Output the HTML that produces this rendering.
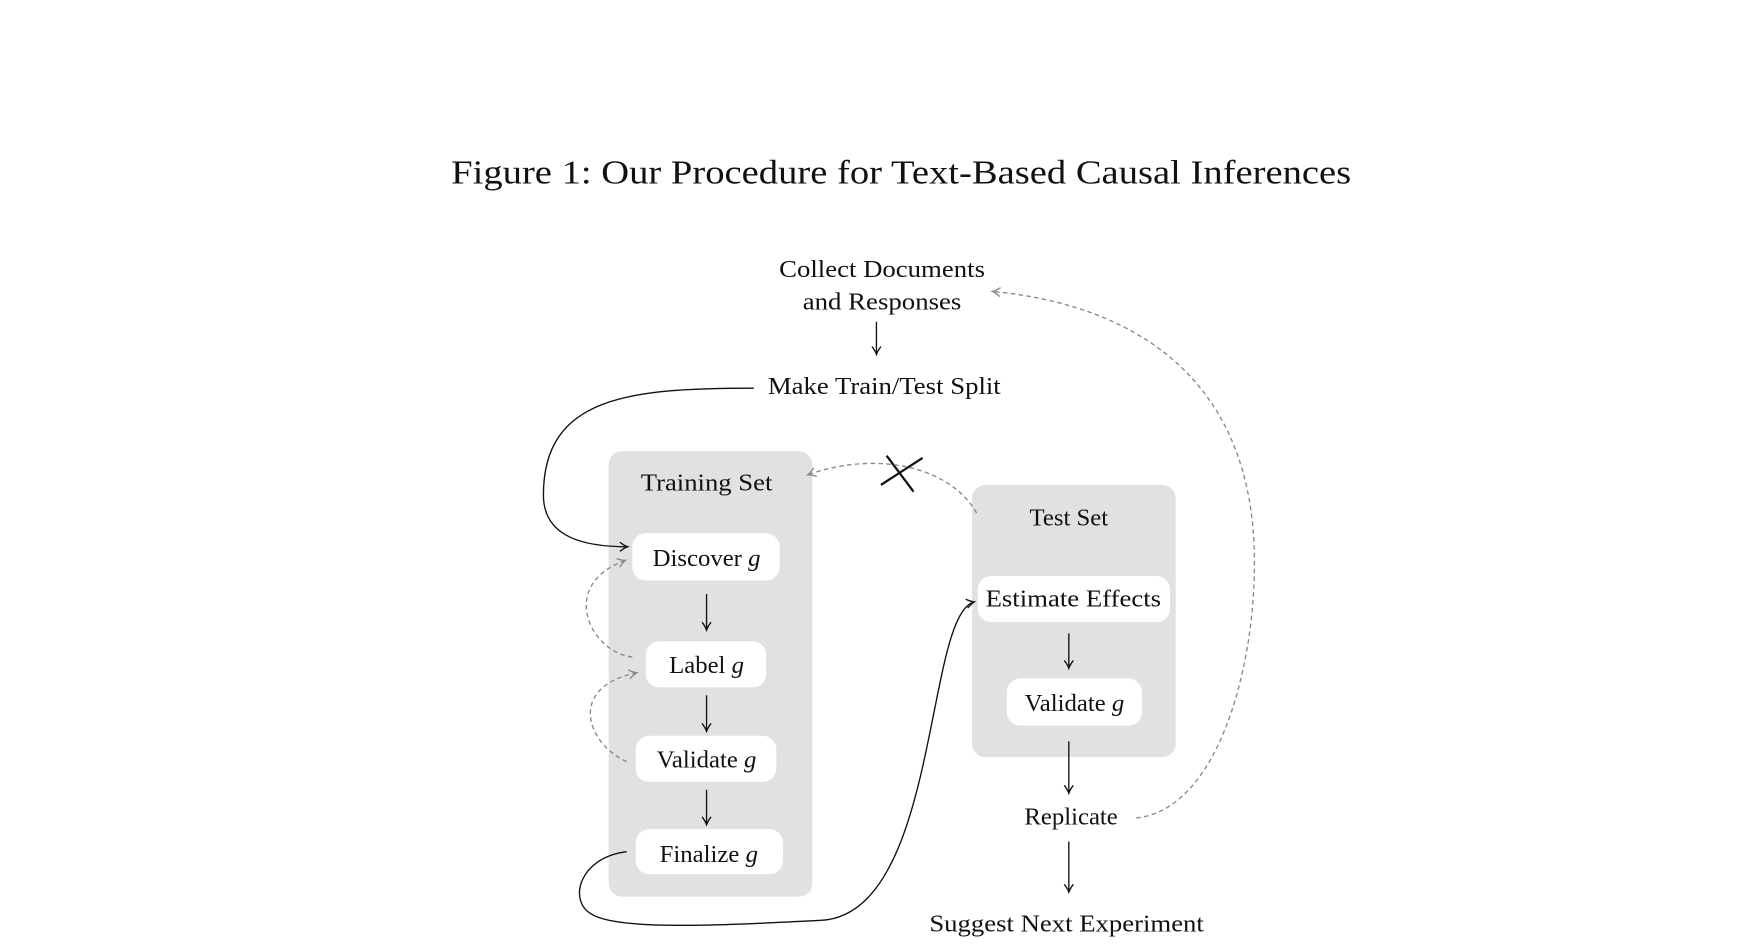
<!DOCTYPE html>
<html><head><meta charset="utf-8"><style>
html,body{margin:0;padding:0;background:#fff;}
svg{display:block;}
text{font-family:"Liberation Serif",serif;fill:#111;}
</style></head><body>
<svg width="1763" height="950" viewBox="0 0 1567 844.4" xmlns="http://www.w3.org/2000/svg">
<defs>
<marker id="a" markerWidth="10" markerHeight="10" refX="8" refY="5" orient="auto" markerUnits="userSpaceOnUse">
<path d="M1,1 Q5,4 8,5 Q5,6 1,9" fill="none" stroke="#111" stroke-width="1.2"/></marker>
<marker id="g" markerWidth="10" markerHeight="10" refX="8" refY="5" orient="auto" markerUnits="userSpaceOnUse">
<path d="M1,1 Q5,4 8,5 Q5,6 1,9" fill="none" stroke="#888" stroke-width="1.2"/></marker>
</defs>
<text x="801" y="163" font-size="30" text-anchor="middle" textLength="800" lengthAdjust="spacingAndGlyphs">Figure 1: Our Procedure for Text-Based Causal Inferences</text>

<g font-size="22" text-anchor="middle">
<text x="784" y="246" textLength="183" lengthAdjust="spacingAndGlyphs">Collect Documents</text>
<text x="784" y="275" textLength="141" lengthAdjust="spacingAndGlyphs">and Responses</text>
<text x="786" y="350" textLength="207" lengthAdjust="spacingAndGlyphs">Make Train/Test Split</text>
</g>
<line x1="779" y1="286" x2="779" y2="315" stroke="#111" stroke-width="1.2" marker-end="url(#a)"/>

<rect x="541" y="401" width="181" height="396" rx="12" fill="#e1e1e1"/>
<rect x="864" y="431" width="181" height="242" rx="12" fill="#e1e1e1"/>

<g fill="#fff">
<rect x="562" y="474" width="131" height="42" rx="12"/>
<rect x="574" y="570" width="107" height="41" rx="12"/>
<rect x="565" y="654" width="125" height="41" rx="12"/>
<rect x="565" y="737" width="131" height="40" rx="12"/>
<rect x="869" y="512" width="171" height="41" rx="12"/>
<rect x="895" y="603" width="120" height="42" rx="12"/>
</g>

<g font-size="22" text-anchor="middle">
<text x="628" y="436" textLength="117" lengthAdjust="spacingAndGlyphs">Training Set</text>
<text x="628" y="503">Discover <tspan font-style="italic">g</tspan></text>
<text x="628" y="598">Label <tspan font-style="italic">g</tspan></text>
<text x="628" y="682">Validate <tspan font-style="italic">g</tspan></text>
<text x="630" y="766">Finalize <tspan font-style="italic">g</tspan></text>
<text x="950" y="467">Test Set</text>
<text x="954" y="539" textLength="156" lengthAdjust="spacingAndGlyphs">Estimate Effects</text>
<text x="955" y="632">Validate <tspan font-style="italic">g</tspan></text>
<text x="952" y="733">Replicate</text>
<text x="948" y="828" textLength="244" lengthAdjust="spacingAndGlyphs">Suggest Next Experiment</text>
</g>

<g stroke="#111" stroke-width="1.2" fill="none">
<line x1="628" y1="528" x2="628" y2="560" marker-end="url(#a)"/>
<line x1="628" y1="618" x2="628" y2="650" marker-end="url(#a)"/>
<line x1="628" y1="702" x2="628" y2="733" marker-end="url(#a)"/>
<line x1="950" y1="563" x2="950" y2="594" marker-end="url(#a)"/>
<line x1="950" y1="659" x2="950" y2="705" marker-end="url(#a)"/>
<line x1="950" y1="748" x2="950" y2="793" marker-end="url(#a)"/>
<path d="M670,345 C560,345 483,352 483,440 C483,478 520,486 558,486" marker-end="url(#a)"/>
<path d="M557,757 C515,762 505,800 525,812 C548,828 650,822 730,818 C835,812 822,545 866,535" marker-end="url(#a)"/>
<line x1="788" y1="405" x2="812" y2="437" stroke-width="2"/>
<line x1="783" y1="431" x2="820" y2="407" stroke-width="2"/>
</g>

<g stroke="#888" stroke-width="1.2" fill="none" stroke-dasharray="4,3">
<path d="M562,584 C525,580 495,520 556,498" marker-end="url(#g)"/>
<path d="M557,677 C520,660 505,610 566,598" marker-end="url(#g)"/>
<path d="M868,456 C845,415 780,400 718,422" marker-end="url(#g)"/>
<path d="M1010,727 C1080,720 1115,600 1115,500 C1115,330 1000,270 882,259" marker-end="url(#g)"/>
</g>
</svg>
</body></html>
